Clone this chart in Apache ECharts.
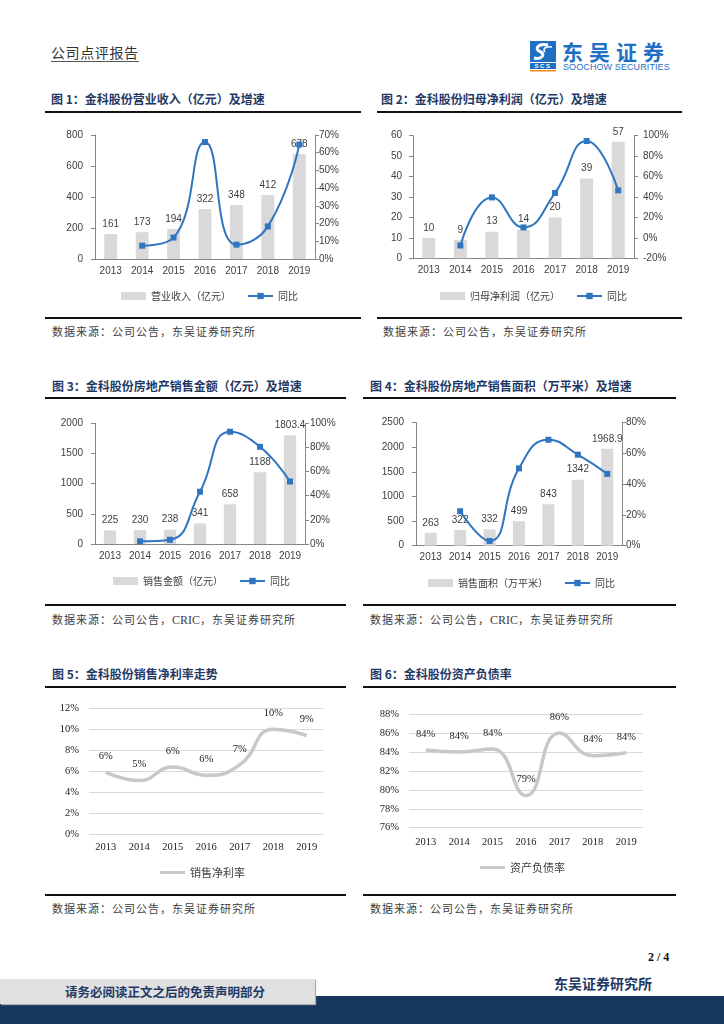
<!DOCTYPE html>
<html><head><meta charset="utf-8">
<script src="https://cdn.jsdelivr.net/npm/echarts@6/dist/echarts.min.js"></script>
<style>
html,body{margin:0;padding:0;}
body{width:724px;height:1024px;position:relative;background:#fff;overflow:hidden;font-family:"Noto Sans CJK SC",sans-serif;}
.abs{position:absolute;white-space:nowrap;}
.title{font-size:12px;font-weight:bold;color:#1f3864;line-height:14px;}
.hl{position:absolute;height:1.5px;background:#111;}
.src{font-size:11px;letter-spacing:1px;color:#404040;line-height:14px;}
.chart{position:absolute;width:330px;height:200px;}
</style></head>
<body>
<!-- header -->
<div class="abs" style="left:51px;top:44px;font-size:14px;letter-spacing:0.6px;color:#333;line-height:17px;border-bottom:1px solid #555;">公司点评报告</div>
<svg class="abs" style="left:528px;top:40px;" width="150" height="34" viewBox="0 0 150 34">
  <rect x="2" y="1" width="26" height="21" fill="#1f6fc2"/>
  <path d="M20 5 C10 3 6 9 12 11.5 C18 14 14 20 6 18" stroke="#fff" stroke-width="3" fill="none"/>
  <path d="M24 7 C18 6 14 9 17 12" stroke="#fff" stroke-width="1.6" fill="none"/>
  <rect x="2" y="23" width="26" height="6" fill="#1f6fc2"/>
  <text x="15" y="28.2" font-size="6" font-weight="bold" fill="#fff" text-anchor="middle" font-family="Liberation Sans" letter-spacing="1.5">SCS</text>
  <rect x="2" y="30" width="26" height="1.5" fill="#f08a1c"/>
</svg>
<div class="abs" style="left:562px;top:38px;font-size:21px;font-weight:bold;color:#1f6fc2;letter-spacing:6px;line-height:26px;">东吴证券</div>
<div class="abs" style="left:563px;top:62px;font-size:9px;color:#1f6fc2;font-family:'Liberation Sans';letter-spacing:0.1px;line-height:11px;">SOOCHOW SECURITIES</div>

<!-- row 1 -->
<div class="abs title" style="left:51px;top:92px;">图 1：金科股份营业收入（亿元）及增速</div>
<div class="abs title" style="left:381px;top:92px;">图 2：金科股份归母净利润（亿元）及增速</div>
<div class="hl" style="left:45px;top:111px;width:316px;"></div>
<div class="hl" style="left:377px;top:111px;width:305px;"></div>
<div id="c1" class="chart" style="left:40px;top:115px;"></div>
<div id="c2" class="chart" style="left:370px;top:115px;"></div>
<div class="hl" style="left:45px;top:317px;width:316px;"></div>
<div class="hl" style="left:377px;top:317px;width:305px;"></div>
<div class="abs src" style="left:52px;top:324px;">数据来源：公司公告，东吴证券研究所</div>
<div class="abs src" style="left:383px;top:324px;">数据来源：公司公告，东吴证券研究所</div>

<!-- row 2 -->
<div class="abs title" style="left:52px;top:379px;">图 3：金科股份房地产销售金额（亿元）及增速</div>
<div class="abs title" style="left:370px;top:379px;">图 4：金科股份房地产销售面积（万平米）及增速</div>
<div class="hl" style="left:45px;top:397px;width:301px;"></div>
<div class="hl" style="left:363px;top:397px;width:313px;"></div>
<div id="c3" class="chart" style="left:40px;top:400px;"></div>
<div id="c4" class="chart" style="left:370px;top:400px;"></div>
<div class="hl" style="left:45px;top:604px;width:301px;"></div>
<div class="hl" style="left:363px;top:604px;width:313px;"></div>
<div class="abs src" style="left:52px;top:612px;">数据来源：公司公告，<span style="font-family:'Liberation Serif';letter-spacing:0;font-size:12px;">CRIC</span>，东吴证券研究所</div>
<div class="abs src" style="left:370px;top:612px;">数据来源：公司公告，<span style="font-family:'Liberation Serif';letter-spacing:0;font-size:12px;">CRIC</span>，东吴证券研究所</div>

<!-- row 3 -->
<div class="abs title" style="left:52px;top:667px;">图 5：金科股份销售净利率走势</div>
<div class="abs title" style="left:370px;top:667px;">图 6：金科股份资产负债率</div>
<div class="hl" style="left:45px;top:686px;width:301px;"></div>
<div class="hl" style="left:363px;top:686px;width:313px;"></div>
<div id="c5" class="chart" style="left:40px;top:690px;"></div>
<div id="c6" class="chart" style="left:360px;top:690px;"></div>
<div class="hl" style="left:45px;top:894px;width:301px;"></div>
<div class="hl" style="left:363px;top:894px;width:313px;"></div>
<div class="abs src" style="left:52px;top:901px;">数据来源：公司公告，东吴证券研究所</div>
<div class="abs src" style="left:370px;top:901px;">数据来源：公司公告，东吴证券研究所</div>

<!-- footer -->
<div class="abs" style="left:648px;top:950px;font-family:'Liberation Serif';font-weight:bold;font-size:12px;color:#111;line-height:14px;">2 / 4</div>
<div class="abs" style="left:554px;top:974px;font-size:14px;font-weight:bold;color:#1f3864;line-height:18px;">东吴证券研究所</div>
<div class="abs" style="left:315px;top:996px;width:409px;height:28px;background:#17365d;"></div>
<div class="abs" style="left:0;top:1004px;width:724px;height:20px;background:#17365d;"></div>
<div class="abs" style="left:0;top:979px;width:315px;height:25px;background:#e0e0e0;box-shadow:1px 1px 1px #aaa;"></div>
<div class="abs" style="left:65px;top:984px;font-size:12.5px;font-weight:bold;color:#1f3864;line-height:16px;">请务必阅读正文之后的免责声明部分</div>

<script>
const years = ['2013','2014','2015','2016','2017','2018','2019'];
const revenue = [161, 173, 194, 322, 348, 412, 678];
const revenueYoY = [null, 7.5, 12.1, 66.0, 8.1, 18.4, 64.6];
const profit = [10, 9, 13, 14, 20, 39, 57];
const profitYoY = [null, -7.5, 39.6, 10.2, 44.0, 94.8, 46.5];
const salesAmt = [225, 230, 238, 341, 658, 1188, 1803.4];
const salesAmtYoY = [null, 2.2, 3.5, 43.3, 93.0, 80.5, 51.8];
const salesArea = [263, 322, 332, 499, 843, 1342, 1968.9];
const salesAreaYoY = [null, 22.4, 3.1, 50.3, 68.9, 59.2, 46.7];
const netMargin = [5.9, 5.1, 6.4, 5.6, 6.6, 10.0, 9.4];
const debtRatio = [84.2, 84.0, 84.3, 79.4, 86.0, 83.6, 83.9];

const AX = '#868686', TX = '#404040', BLUE = '#2f75bf', BARC = '#d9d9d9';

function barLine(id, c) {
  const ch = echarts.init(document.getElementById(id));
  ch.setOption({
    animation: false,
    textStyle: {fontFamily: 'Liberation Sans'},
    grid: {left: c.grid[0], top: c.grid[1], width: c.grid[2], height: c.grid[3]},
    legend: {
      left: c.legend[0], top: c.legend[1], itemWidth: 25, itemHeight: 8, itemGap: 16,
      textStyle: {fontFamily: 'Noto Sans CJK SC', fontSize: 10, color: TX},
      data: [{name: c.barName, icon: 'rect'}, {name: '同比'}]
    },
    xAxis: {
      type: 'category', data: years,
      axisLine: {lineStyle: {color: AX}}, axisTick: {length: 4, lineStyle: {color: AX}},
      axisLabel: {color: TX, fontSize: 10, margin: 7}
    },
    yAxis: [
      {type: 'value', min: 0, max: c.lMax, interval: c.lInt,
       axisLine: {show: true, lineStyle: {color: AX}}, axisTick: {show: true, length: 4, lineStyle: {color: AX}},
       splitLine: {show: false}, axisLabel: {color: TX, fontSize: 10, margin: c.lm, formatter: v => String(v)}},
      {type: 'value', min: c.rMin, max: c.rMax, interval: c.rInt, position: 'right',
       axisLine: {show: true, lineStyle: {color: AX}}, axisTick: {show: true, length: 4, lineStyle: {color: AX}},
       splitLine: {show: false}, axisLabel: {color: TX, fontSize: 10, margin: c.rm, formatter: v => v + '%'}}
    ],
    series: [
      {type: 'bar', name: c.barName, data: c.bar, barWidth: '41%', itemStyle: {color: BARC},
       label: {show: true, position: 'top', distance: 5, color: TX, fontSize: 10, formatter: p => String(p.value)}},
      {type: 'line', name: '同比', yAxisIndex: 1, data: c.line, smooth: 0.5, symbol: 'rect', symbolSize: 6,
       lineStyle: {color: BLUE, width: 2}, itemStyle: {color: BLUE}, z: 5}
    ]
  });
}

barLine('c1', {grid: [55, 20, 220, 124], legend: [76, 171], barName: '营业收入（亿元）', bar: revenue, line: revenueYoY,
  lMax: 800, lInt: 200, rMin: 0, rMax: 70, rInt: 10, lm: 12, rm: 4});
barLine('c2', {grid: [43, 20.7, 221, 122.6], legend: [65, 171], barName: '归母净利润（亿元）', bar: profit, line: profitYoY,
  lMax: 60, lInt: 10, rMin: -20, rMax: 100, rInt: 20, lm: 11, rm: 9});
barLine('c3', {grid: [55, 23.3, 210, 120.7], legend: [68, 171], barName: '销售金额（亿元）', bar: salesAmt, line: salesAmtYoY,
  lMax: 2000, lInt: 500, rMin: 0, rMax: 100, rInt: 20, lm: 12, rm: 5});
barLine('c4', {grid: [46, 22.7, 206, 123], legend: [53, 173], barName: '销售面积（万平米）', bar: salesArea, line: salesAreaYoY,
  lMax: 2500, lInt: 500, rMin: 0, rMax: 80, rInt: 20, lm: 12, rm: 4});

function grayLine(id, c) {
  const ch = echarts.init(document.getElementById(id));
  ch.setOption({
    animation: false,
    textStyle: {fontFamily: 'Liberation Serif'},
    grid: {left: c.grid[0], top: c.grid[1], width: c.grid[2], height: c.grid[3]},
    legend: {
      left: c.legend[0], top: c.legend[1], itemWidth: 25, itemHeight: 8,
      textStyle: {fontFamily: 'Noto Sans CJK SC', fontSize: 11, color: TX},
      data: [{name: c.name, icon: 'path://M0,0L25,0L25,3L0,3Z', itemStyle: {color: '#c8c8c8'}}]
    },
    xAxis: {
      type: 'category', data: years,
      axisLine: {show: false}, axisTick: {show: false},
      axisLabel: {color: '#222', fontSize: 10.5, margin: c.xm, fontFamily: 'Liberation Serif'}
    },
    yAxis: {
      type: 'value', min: c.min, max: c.max, interval: 2,
      axisLine: {show: false}, axisTick: {show: false},
      splitLine: {lineStyle: {color: '#d9d9d9', width: 1}},
      axisLabel: {color: '#222', fontSize: 10.5, margin: 10, formatter: v => v + '%', fontFamily: 'Liberation Serif'}
    },
    series: [{
      type: 'line', name: c.name, data: c.data, smooth: 0.5, symbol: 'circle', symbolSize: 1, showSymbol: true,
      lineStyle: {color: '#c8c8c8', width: 3.5}, itemStyle: {color: 'rgba(200,200,200,0)'},
      label: {show: true, position: 'top', distance: 10, color: '#222', fontSize: 10.5, fontFamily: 'Liberation Serif',
        formatter: p => Math.round(p.value) + '%'}
    }]
  });
}

grayLine('c5', {grid: [49, 18.3, 234.5, 125.7], legend: [115, 172], name: '销售净利率', data: netMargin, min: 0, max: 12, xm: 8});
grayLine('c6', {grid: [49, 24, 234, 113.7], legend: [115, 167], name: '资产负债率', data: debtRatio, min: 76, max: 88, xm: 9});
</script>
</body></html>
